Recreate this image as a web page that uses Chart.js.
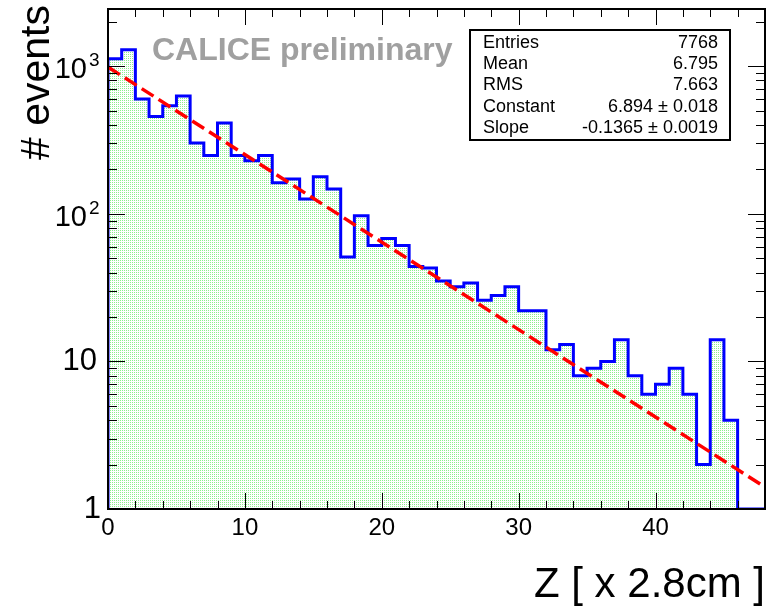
<!DOCTYPE html>
<html>
<head>
<meta charset="utf-8">
<title>Z distribution</title>
<script src="https://cdn.jsdelivr.net/npm/chart.js@4.4.0/dist/chart.umd.min.js"></script>
<style>
  html, body { margin: 0; padding: 0; background: #fff; }
  #wrap { width: 770px; height: 606px; }
</style>
</head>
<body>
<div id="wrap"><canvas id="grafico" width="770" height="606"></canvas></div>
<script>
// Histogram: lower edge of each bin (width 1) and the number of events in it
const zBins = [0, 1, 2, 3, 4, 5, 6, 7, 8, 9, 10, 11, 12, 13, 14, 15, 16, 17, 18, 19,
  20, 21, 22, 23, 24, 25, 26, 27, 28, 29, 30, 31, 32, 33, 34, 35, 36, 37, 38, 39,
  40, 41, 42, 43, 44, 45, 46, 47];
const counts = [1125, 1294, 600, 457, 540, 628, 302, 248, 412, 248, 229, 248, 162, 172, 126, 178,
  147, 51, 97, 61, 68, 61, 44, 43, 35, 32, 34, 26, 28, 32, 22, 22,
  12, 13, 8, 9, 10, 14, 8, 6, 7, 9, 6, 2, 14, 4, 0, 0];
const binWidth = 1;

// Exponential fit  N = exp(constant + slope * Z)
const fitConstant = 6.894;
const fitSlope = -0.1365;
const fitRange = [0, 48];

// Stats box
const statNames = ["Entries", "Mean", "RMS", "Constant", "Slope"];
const statValues = ["7768", "6.795", "7.663", "6.894 \u00b1 0.018", "-0.1365 \u00b1 0.0019"];

// Axes
const xRange = [0, 48];
const yRange = [1, 2440];
const xTickValues = [0, 10, 20, 30, 40];
const xTickLabels = ["0", "10", "20", "30", "40"];
const yTickValues = [1, 10, 100, 1000];
const yTickLabels = [["1", ""], ["10", ""], ["10", "2"], ["10", "3"]];
const xTitle = "Z [ x 2.8cm ]";
const yTitle = "# events";
const watermark = "CALICE preliminary";

const FONT = "'Liberation Sans', Arial, sans-serif";

// step outline, empty bins sit on the bottom of the log axis
function histPoints() {
  const pts = [{ x: zBins[0], y: yRange[0] }];
  counts.forEach((c, i) => pts.push({ x: zBins[i], y: Math.max(c, yRange[0]) }));
  const last = zBins.length - 1;
  pts.push({ x: zBins[last] + binWidth, y: Math.max(counts[last], yRange[0]) });
  return pts;
}

function fitPoints() {
  return fitRange.map(z => ({ x: z, y: Math.exp(fitConstant + fitSlope * z) }));
}

// dotted green fill
function dotPattern(ctx) {
  const tile = document.createElement("canvas");
  tile.width = 2; tile.height = 2;
  const t = tile.getContext("2d");
  t.fillStyle = "#ffffff";
  t.fillRect(0, 0, 2, 2);
  t.fillStyle = "rgb(140, 240, 140)";
  t.fillRect(0, 0, 1, 1);
  return ctx.createPattern(tile, "repeat");
}

function line(ctx, x1, y1, x2, y2) {
  ctx.beginPath();
  ctx.moveTo(x1, y1);
  ctx.lineTo(x2, y2);
  ctx.stroke();
}

// frame, inward ticks, labels and the text boxes
const decoracao = {
  id: "decoracao",
  afterDatasetsDraw(chart) {
    const ctx = chart.ctx;
    const { left, right, top, bottom } = chart.chartArea;
    const xs = chart.scales.x, ys = chart.scales.y;
    ctx.save();

    ctx.strokeStyle = "#000";
    ctx.lineWidth = 1;
    for (let v = xRange[0]; v <= xRange[1]; v += 2) {
      const px = Math.round(xs.getPixelForValue(v)) + 0.5;
      const len = v % 10 === 0 ? 16 : 8;
      line(ctx, px, bottom, px, bottom - len);
      line(ctx, px, top, px, top + len);
    }
    for (let d = 1; d <= yRange[1]; d *= 10) {
      for (let m = 1; m <= 9; m++) {
        const v = m * d;
        if (v > yRange[1]) break;
        const py = Math.round(ys.getPixelForValue(v)) + 0.5;
        const len = m === 1 ? 17 : 9;
        line(ctx, left, py, left + len, py);
        line(ctx, right, py, right - len, py);
      }
    }

    ctx.lineWidth = 2;
    ctx.strokeRect(left, top, right - left, bottom - top);

    // x tick labels
    ctx.fillStyle = "#000";
    ctx.font = "24px " + FONT;
    ctx.textAlign = "center";
    ctx.textBaseline = "middle";
    xTickValues.forEach((v, i) => {
      ctx.fillText(xTickLabels[i], xs.getPixelForValue(v), bottom + 19);
    });

    // y tick labels, powers as superscripts
    yTickValues.forEach((v, i) => {
      const [base, pow] = yTickLabels[i];
      const py = ys.getPixelForValue(v);
      ctx.textBaseline = "middle";
      ctx.textAlign = "right";
      if (pow) {
        ctx.font = "29px " + FONT;
        ctx.fillText(base, 87, py + 4);
        ctx.font = "19px " + FONT;
        ctx.textAlign = "left";
        ctx.fillText(pow, 89, py - 5);
      } else {
        ctx.font = "31px " + FONT;
        ctx.fillText(base, i === 0 ? 101 : 97, py);
      }
    });

    // axis titles
    ctx.font = "42px " + FONT;
    ctx.textAlign = "right";
    ctx.textBaseline = "alphabetic";
    ctx.fillText(xTitle, 765, 597);
    ctx.save();
    ctx.translate(49, 5);
    ctx.rotate(-Math.PI / 2);
    ctx.font = "41px " + FONT;
    ctx.fillText(yTitle, 0, 0);
    ctx.restore();

    // watermark
    ctx.font = "bold 32px " + FONT;
    ctx.fillStyle = "#a0a0a0";
    ctx.textAlign = "left";
    ctx.fillText(watermark, 152, 60);

    // stats box
    const bx = 470, by = 30, bw = 260, bh = 110;
    ctx.fillStyle = "#fff";
    ctx.fillRect(bx, by, bw, bh);
    ctx.strokeStyle = "#000";
    ctx.lineWidth = 2;
    ctx.strokeRect(bx, by, bw, bh);
    ctx.fillStyle = "#000";
    ctx.font = "18px " + FONT;
    ctx.textBaseline = "middle";
    statNames.forEach((name, i) => {
      const ry = by + 13 + i * 21.2;
      ctx.textAlign = "left";
      ctx.fillText(name, bx + 13, ry);
      ctx.textAlign = "right";
      ctx.fillText(statValues[i], bx + bw - 12, ry);
    });

    ctx.restore();
  }
};

const ctx = document.getElementById("grafico").getContext("2d");

new Chart(ctx, {
  type: "line",
  data: {
    datasets: [
      {
        label: "fit",
        data: fitPoints(),
        borderColor: "#ff0000",
        borderWidth: 3.5,
        borderDash: [14, 6],
        pointRadius: 0,
        fill: false,
        order: 0
      },
      {
        label: "Z",
        data: histPoints(),
        stepped: "before",
        borderColor: "#0000ff",
        borderWidth: 3,
        backgroundColor: dotPattern(ctx),
        fill: "start",
        pointRadius: 0,
        order: 1
      }
    ]
  },
  options: {
    responsive: false,
    animation: false,
    layout: { padding: { left: 108, right: 5, top: 9, bottom: 97 } },
    plugins: { legend: { display: false }, tooltip: { enabled: false } },
    scales: {
      x: { type: "linear", min: xRange[0], max: xRange[1], display: false },
      y: { type: "logarithmic", min: yRange[0], max: yRange[1], display: false }
    }
  },
  plugins: [decoracao]
});
</script>
</body>
</html>
